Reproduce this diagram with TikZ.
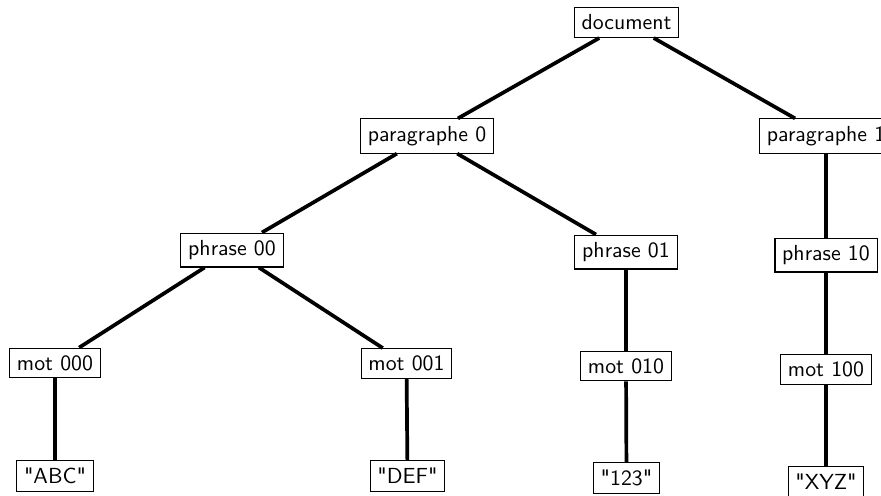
\documentclass[tikz,border=0pt]{standalone}

\begin{document}
\begin{tikzpicture}[x=0.4587pt, y=-0.4587pt, line width=1.7pt,
	every node/.style={draw, fill=white, line width=0.5pt, font=\sffamily}]
	\useasboundingbox (0,0) rectangle (881,495);
	\clip (0,0) rectangle (881,495);

	\node (D) at (626.5,22.5) {document};
	\node (P0) at (427,136) {paragraphe 0};
	\node (P1) at (826,136) {paragraphe 1};
	\node (S00) at (232,250) {phrase 00};
	\node (S01) at (626,252) {phrase 01};
	\node (S10) at (826,255) {phrase 10};
	\node (M000) at (55,363) {mot 000};
	\node (M001) at (406.5,363.5) {mot 001};
	\node (M010) at (626,366) {mot 010};
	\node (M100) at (826,369.5) {mot 100};
	\node (W000) at (55,476) {\textquotedbl ABC\textquotedbl};
	\node (W001) at (407.5,476) {\textquotedbl DEF\textquotedbl};
	\node (W010) at (626.5,478) {\textquotedbl 123\textquotedbl};
	\node (W100) at (826,482) {\textquotedbl XYZ\textquotedbl};

	\draw (D) -- (P0);
	\draw (D) -- (P1);
	\draw (P0) -- (S00);
	\draw (P0) -- (S01);
	\draw (P1) -- (S10);
	\draw (S00) -- (M000);
	\draw (S00) -- (M001);
	\draw (S01) -- (M010);
	\draw (S10) -- (M100);
	\draw (M000) -- (W000);
	\draw (M001) -- (W001);
	\draw (M010) -- (W010);
	\draw (M100) -- (W100);
\end{tikzpicture}
\end{document}
